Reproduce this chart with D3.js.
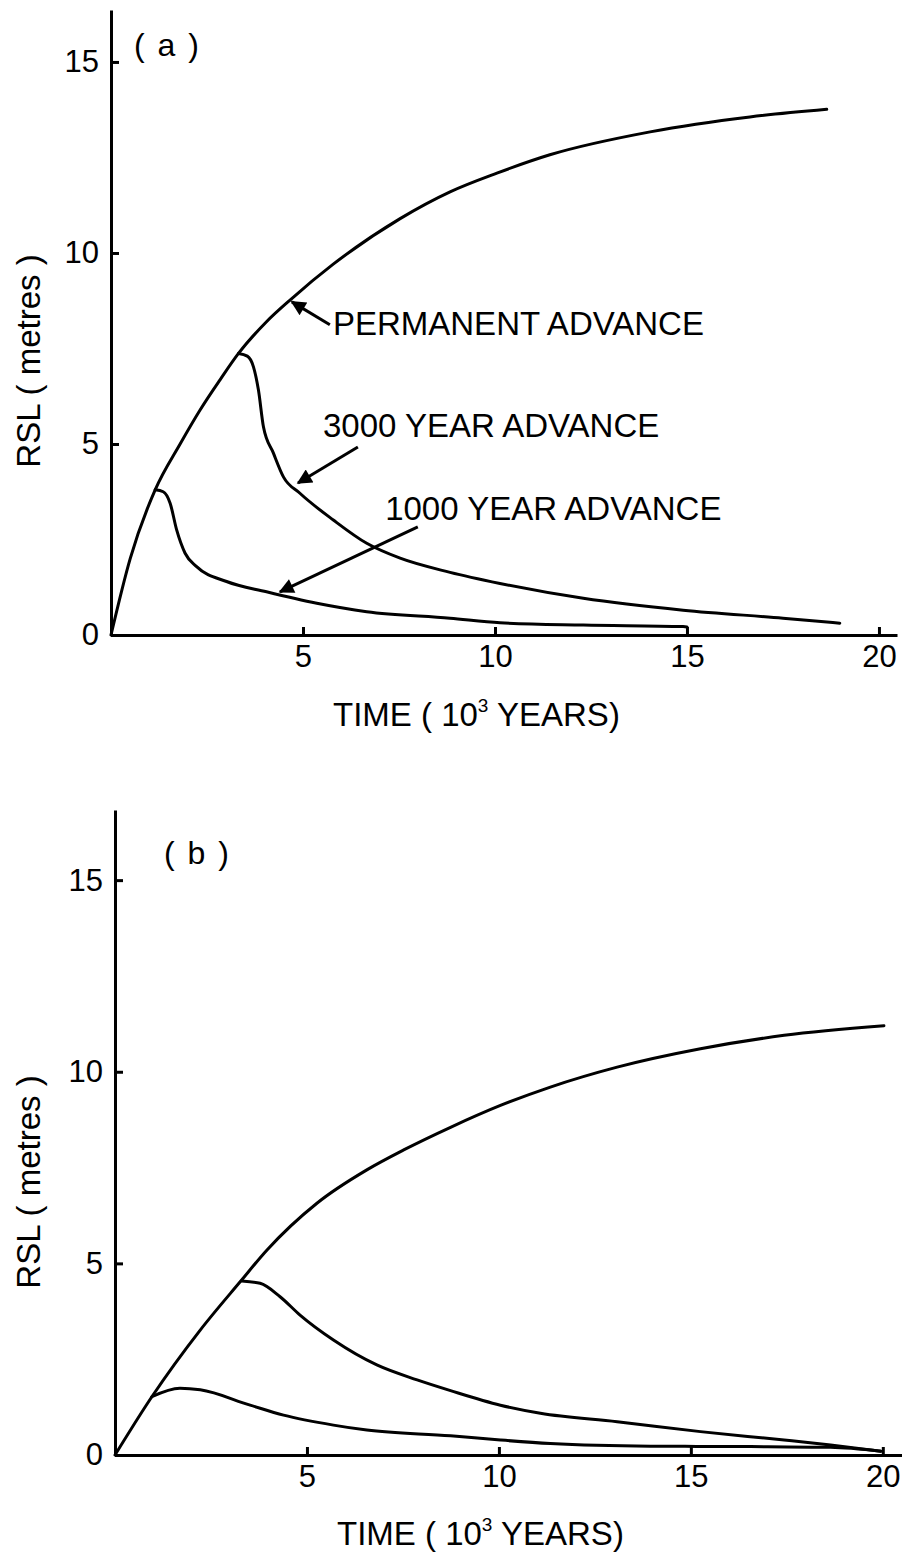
<!DOCTYPE html>
<html>
<head>
<meta charset="utf-8">
<script src="https://cdn.jsdelivr.net/npm/d3@7"></script>
<style>
  html, body { margin: 0; padding: 0; background: #fff; }
  text { font-family: "Liberation Sans", Arial, Helvetica, sans-serif; fill: #000; }
</style>
</head>
<body>
<svg id="chart" width="902" height="1553"></svg>
<script>
// ---------- DATA ----------
// Panel (a)
const aPermX = [0, 0.5, 1.15, 1.8, 2.32, 2.84, 3.32, 4.05, 4.7, 5.78, 7.53, 8.83, 10.05, 11.43, 14.04, 16.64, 18.64];
const aPermY = [0, 2.0, 3.8, 5.0, 5.89, 6.68, 7.37, 8.2, 8.8, 9.7, 10.9, 11.6, 12.09, 12.57, 13.17, 13.56, 13.76];

const a3000X = [3.32, 3.55, 3.71, 3.84, 3.97, 4.23, 4.49, 4.92, 5.79, 6.66, 7.53, 8.83, 10.13, 12.3, 14.9, 17.5, 18.98];
const a3000Y = [7.37, 7.3, 7.02, 6.41, 5.45, 4.76, 4.14, 3.71, 3.01, 2.40, 2.01, 1.64, 1.35, 0.96, 0.65, 0.44, 0.31];

const a1000X = [1.15, 1.36, 1.54, 1.71, 1.93, 2.23, 3.01, 4.05, 5.36, 6.66, 8.83, 10.13, 12.3, 14.9, 15.0];
const a1000Y = [3.8, 3.75, 3.45, 2.75, 2.14, 1.79, 1.40, 1.13, 0.83, 0.61, 0.44, 0.32, 0.26, 0.22, 0.21];

// Panel (b)
const bPermX = [0, 0.96, 2.22, 3.26, 3.96, 5.26, 6.56, 7.52, 8.74, 10.04, 11.34, 13.08, 15.25, 17.43, 20.03];
const bPermY = [0, 1.52, 3.26, 4.52, 5.35, 6.57, 7.44, 7.96, 8.55, 9.12, 9.6, 10.12, 10.6, 10.95, 11.2];

const b3000X = [3.3, 3.78, 4.30, 4.82, 5.69, 6.82, 7.87, 8.74, 10.04, 11.08, 13.08, 15.25, 17.43, 18.64, 19.95];
const b3000Y = [4.54, 4.48, 4.13, 3.65, 3.0, 2.35, 1.96, 1.68, 1.30, 1.09, 0.87, 0.61, 0.39, 0.26, 0.10];

const b1000X = [0.96, 1.69, 2.22, 3.52, 4.39, 5.69, 6.56, 8.74, 10.04, 11.34, 13.95, 16.56, 18.64, 19.95];
const b1000Y = [1.52, 1.74, 1.70, 1.30, 1.04, 0.78, 0.65, 0.50, 0.39, 0.30, 0.23, 0.22, 0.2, 0.10];

const yTicks = [0, 5, 10, 15];
const xTicks = [5, 10, 15, 20];

const yLabel = "RSL ( metres )";
const xLabelMain = "TIME ( 10";
const xLabelSup = "3";
const xLabelRest = " YEARS)";

// annotations for panel (a): [text, textX, textY, tailX, tailY, tipX, tipY] in data units
const annotations = [
  ["PERMANENT ADVANCE", 5.78, 7.85, 5.70, 8.12, 4.71, 8.72],
  ["3000 YEAR ADVANCE", 5.52, 5.18, 6.43, 4.92, 4.87, 3.98],
  ["1000 YEAR ADVANCE", 7.14, 3.01, 7.99, 2.83, 4.40, 1.13]
];

// ---------- DRAW ----------
const svg = d3.select("#chart");
const defs = svg.append("defs");
defs.append("marker")
  .attr("id", "arrow")
  .attr("viewBox", "0 0 10 10")
  .attr("refX", 9).attr("refY", 5)
  .attr("markerWidth", 6).attr("markerHeight", 5)
  .attr("markerUnits", "strokeWidth")
  .attr("orient", "auto")
  .append("path").attr("d", "M0,0 L10,5 L0,10 Z").attr("fill", "#000");

function zip(xs, ys) { return xs.map((x, i) => [x, ys[i]]); }

function panel(cfg) {
  const x = d3.scaleLinear().domain(cfg.xDomain).range(cfg.xRange);
  const y = d3.scaleLinear().domain(cfg.yDomain).range(cfg.yRange);
  const g = svg.append("g");

  // axes
  const yAxis = d3.axisLeft(y).tickValues(yTicks).tickSizeInner(-8).tickSizeOuter(0).tickPadding(12);
  const xAxis = d3.axisBottom(x).tickValues(xTicks).tickSizeInner(-8).tickSizeOuter(0).tickPadding(10);

  const gy = g.append("g").attr("transform", `translate(${cfg.xRange[0]},0)`).call(yAxis);
  const gx = g.append("g").attr("transform", `translate(0,${cfg.yRange[0]})`).call(xAxis);
  [gx, gy].forEach(a => {
    a.select(".domain").attr("stroke", "#000").attr("stroke-width", 3);
    a.selectAll(".tick line").attr("stroke", "#000").attr("stroke-width", 3);
    a.selectAll(".tick text").attr("font-size", 31).attr("font-family", "Liberation Sans, Arial, sans-serif").attr("fill", "#000");
  });

  // curves
  const line = d3.line().x(d => x(d[0])).y(d => y(d[1])).curve(d3.curveMonotoneX);
  cfg.series.forEach(s => {
    g.append("path").datum(s).attr("d", line)
      .attr("fill", "none").attr("stroke", "#000").attr("stroke-width", 3)
      .attr("stroke-linejoin", "round").attr("stroke-linecap", "round");
  });

  // y label
  g.append("text")
    .attr("transform", `translate(40,${cfg.yLabelCenter}) rotate(-90)`)
    .attr("text-anchor", "middle").attr("font-size", 33)
    .text(yLabel);

  // x label
  const xl = g.append("text")
    .attr("x", cfg.xLabelX).attr("y", cfg.xLabelY)
    .attr("font-size", 33);
  xl.append("tspan").text(xLabelMain);
  xl.append("tspan").attr("font-size", 19).attr("dy", -14).text(xLabelSup);
  xl.append("tspan").attr("dy", 14).text(xLabelRest);

  // panel label
  g.append("text").attr("x", cfg.tagX).attr("y", cfg.tagY)
    .attr("font-size", 32).attr("xml:space", "preserve")
    .attr("letter-spacing", 2).text(cfg.tag);

  // annotations
  (cfg.annotations || []).forEach(a => {
    g.append("line")
      .attr("x1", x(a[3])).attr("y1", y(a[4]))
      .attr("x2", x(a[5])).attr("y2", y(a[6]))
      .attr("stroke", "#000").attr("stroke-width", 3)
      .attr("marker-end", "url(#arrow)");
    g.append("text").attr("x", x(a[1])).attr("y", y(a[2]))
      .attr("font-size", 33).text(a[0]);
  });
}

panel({
  xDomain: [0, 20.47], xRange: [111, 897],
  yDomain: [0, 16.36], yRange: [635, 10],
  series: [zip(aPermX, aPermY), zip(a3000X, a3000Y), zip(a1000X, a1000Y)],
  yLabelCenter: 361,
  xLabelX: 333, xLabelY: 726,
  tag: "( a )", tagX: 134, tagY: 56,
  annotations: annotations
});

panel({
  xDomain: [0, 20.5], xRange: [115, 902],
  yDomain: [0, 16.83], yRange: [1455, 810],
  series: [zip(bPermX, bPermY), zip(b3000X, b3000Y), zip(b1000X, b1000Y)],
  yLabelCenter: 1182,
  xLabelX: 337, xLabelY: 1545,
  tag: "( b )", tagX: 164, tagY: 864
});
</script>
</body>
</html>
